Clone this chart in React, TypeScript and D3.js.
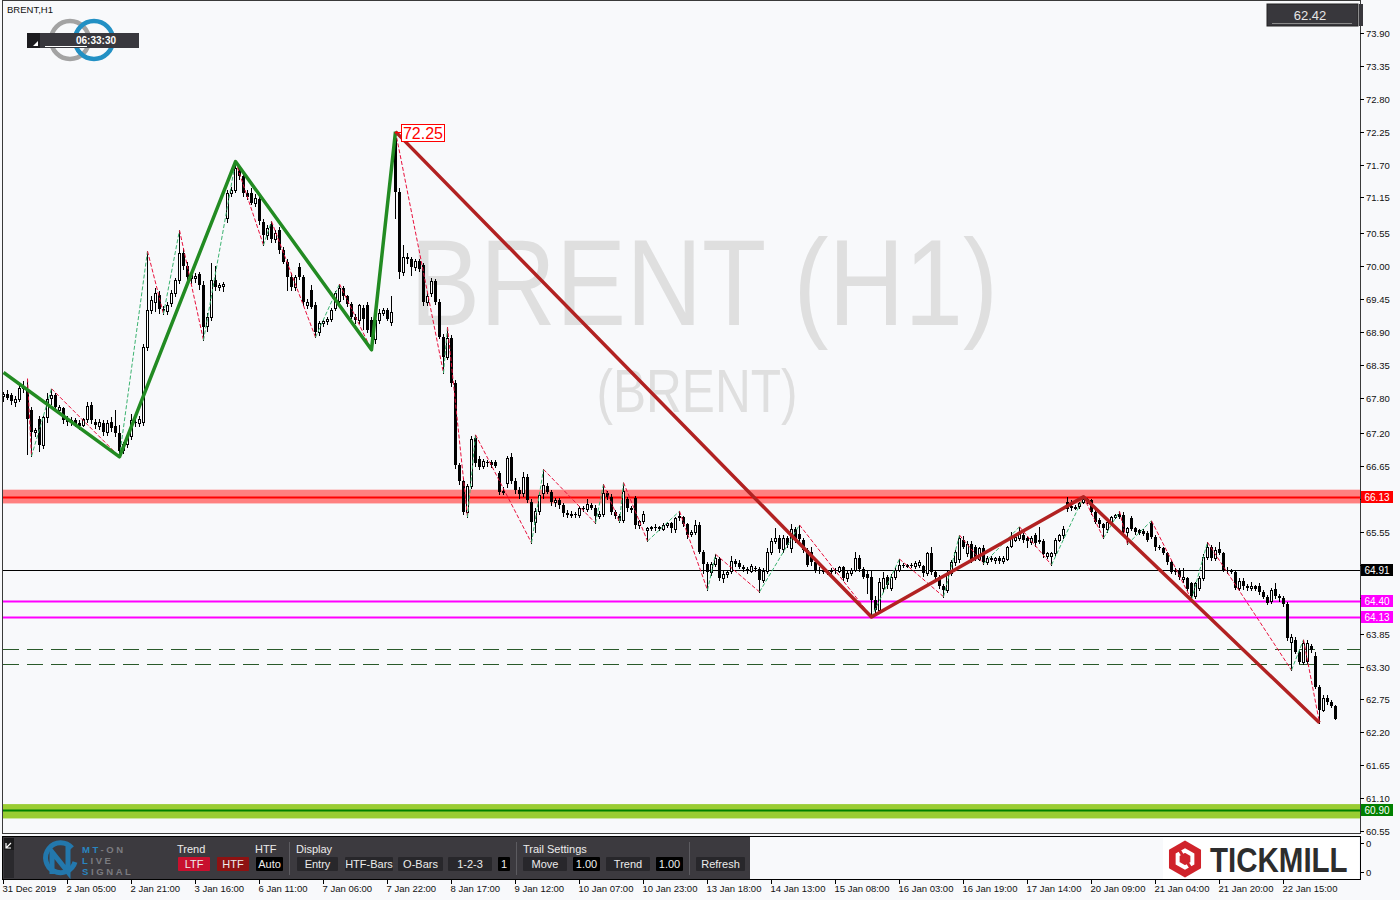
import React from 'react';
import * as d3 from 'd3';

// H1 bars, 31 Dec 2019 -> 22 Jan 2020
const opens = [
  67.82, 67.86, 67.84, 67.72, 67.78, 67.96, 67.92, 67.60, 67.22, 67.45,
  67.00, 67.47, 67.80, 67.85, 67.60, 67.62, 67.42, 67.40, 67.42, 67.38,
  67.35, 67.44, 67.68, 67.40, 67.32, 67.38, 67.22, 67.40, 67.32, 67.20,
  66.92, 67.02, 67.15, 67.40, 67.38, 67.40, 68.65, 69.27, 69.40, 69.52,
  69.28, 69.25, 69.38, 69.55, 69.77, 70.22, 70.00, 69.80, 69.80, 69.86,
  69.68, 69.00, 69.15, 69.77, 69.65, 69.66, 70.80, 71.22, 71.28, 71.64,
  71.50, 71.22, 71.22, 71.06, 71.12, 70.74, 70.52, 70.70, 70.45, 70.60,
  70.27, 70.07, 69.82, 69.65, 69.98, 69.82, 69.35, 69.60, 69.35, 68.90,
  69.05, 69.08, 69.12, 69.30, 69.42, 69.63, 69.50, 69.36, 69.15, 69.10,
  69.30, 69.35, 69.10, 68.78, 69.10, 69.22, 69.26, 69.07, 72.15, 71.24,
  69.90, 70.15, 70.12, 69.98, 70.08, 70.02, 69.40, 69.55, 69.75, 69.40,
  68.82, 68.48, 68.80, 68.05, 66.67, 66.40, 65.88, 66.32, 67.12, 66.78,
  66.65, 66.72, 66.72, 66.72, 66.54, 66.22, 66.37, 66.81, 66.40, 66.25,
  66.21, 66.47, 66.05, 65.72, 65.90, 66.21, 66.32, 66.22, 66.05, 66.08,
  66.00, 65.87, 65.84, 65.86, 65.84, 65.95, 65.93, 66.00, 65.96, 65.82,
  65.86, 66.20, 66.14, 65.88, 65.82, 65.76, 66.10, 65.96, 66.12, 65.67,
  65.74, 65.58, 65.62, 65.63, 65.62, 65.60, 65.67, 65.70, 65.60, 65.82,
  65.80, 65.68, 65.52, 65.55, 65.67, 65.22, 65.02, 64.88, 65.02, 65.10,
  64.78, 64.85, 64.90, 65.07, 65.04, 64.97, 64.94, 64.90, 64.95, 64.93,
  64.75, 64.90, 65.22, 65.40, 65.46, 65.26, 65.45, 65.28, 65.60, 65.52,
  65.42, 65.25, 65.22, 65.05, 64.92, 64.90, 64.88, 64.90, 64.92, 64.90,
  64.96, 64.78, 64.87, 64.92, 65.12, 64.93, 64.85, 64.80, 64.42, 64.25,
  64.62, 64.80, 64.62, 64.80, 64.92, 65.00, 64.98, 65.00, 64.98, 65.00,
  64.98, 64.87, 65.20, 64.88, 64.80, 64.65, 64.58, 64.87, 65.05, 65.10,
  65.42, 65.20, 65.35, 65.30, 65.10, 65.28, 65.05, 65.12, 65.08, 65.12,
  65.07, 65.10, 65.32, 65.42, 65.45, 65.50, 65.45, 65.38, 65.50, 65.42,
  65.40, 65.15, 65.15, 65.20, 65.42, 65.50, 66.05, 65.98, 65.96, 65.98,
  66.06, 66.10, 66.09, 65.89, 65.75, 65.68, 65.60, 65.72, 65.80, 65.86,
  65.84, 65.56, 65.78, 65.62, 65.58, 65.57, 65.54, 65.70, 65.47, 65.30,
  65.28, 65.20, 65.05, 64.92, 64.92, 64.76, 64.78, 64.70, 64.48, 64.62,
  64.78, 65.14, 65.30, 65.12, 65.26, 65.20, 64.92, 64.90, 64.88, 64.62,
  64.74, 64.65, 64.62, 64.65, 64.65, 64.55, 64.47, 64.40, 64.60, 64.48,
  64.44, 64.35, 63.72, 63.75, 63.55, 63.38, 63.40, 63.65, 63.48, 62.96,
  62.58, 62.78, 62.70, 62.64,
];
const highs = [
  67.90, 67.93, 67.88, 67.82, 68.00, 68.08, 68.12, 67.65, 67.30, 67.50,
  67.50, 67.88, 67.95, 67.88, 67.68, 67.65, 67.50, 67.48, 67.46, 67.42,
  67.46, 67.72, 67.72, 67.44, 67.45, 67.42, 67.42, 67.48, 67.60, 67.35,
  67.05, 67.20, 67.52, 67.45, 67.50, 68.70, 70.25, 69.50, 69.63, 69.58,
  69.33, 69.40, 69.60, 69.80, 70.60, 70.30, 70.07, 69.92, 69.88, 69.90,
  69.75, 69.22, 70.05, 70.00, 69.72, 69.74, 71.27, 71.32, 71.75, 71.70,
  71.58, 71.28, 71.30, 71.20, 71.18, 70.78, 70.68, 70.75, 70.60, 70.65,
  70.32, 70.12, 69.88, 69.85, 70.05, 69.85, 69.45, 69.68, 69.40, 69.08,
  69.12, 69.15, 69.30, 69.58, 69.70, 69.66, 69.52, 69.40, 69.20, 69.37,
  69.35, 69.40, 69.15, 69.15, 69.28, 69.30, 69.30, 69.50, 72.25, 71.30,
  70.35, 70.22, 70.15, 70.12, 70.12, 70.06, 69.55, 69.80, 69.78, 69.45,
  68.86, 68.98, 68.85, 68.10, 66.70, 66.45, 66.35, 67.15, 67.18, 66.82,
  66.78, 66.76, 66.75, 66.75, 66.58, 66.30, 66.82, 66.88, 66.45, 66.30,
  66.55, 66.52, 66.10, 65.95, 66.20, 66.60, 66.38, 66.25, 66.12, 66.12,
  66.04, 65.92, 65.90, 65.88, 65.98, 65.98, 66.10, 66.04, 66.00, 65.90,
  66.35, 66.24, 66.18, 65.92, 65.86, 66.38, 66.14, 65.98, 66.15, 65.76,
  65.90, 65.64, 65.66, 65.68, 65.66, 65.70, 65.72, 65.72, 65.80, 65.90,
  65.82, 65.70, 65.58, 65.75, 65.72, 65.25, 65.05, 65.05, 65.18, 65.14,
  64.92, 64.90, 65.15, 65.10, 65.08, 65.00, 64.97, 65.02, 64.98, 64.96,
  64.95, 65.28, 65.45, 65.62, 65.50, 65.50, 65.48, 65.68, 65.64, 65.67,
  65.46, 65.28, 65.30, 65.08, 64.96, 64.94, 64.92, 64.95, 64.95, 64.98,
  64.98, 64.90, 64.95, 65.22, 65.16, 64.96, 64.92, 64.92, 64.48, 64.78,
  64.88, 64.84, 64.85, 64.96, 65.10, 65.03, 65.02, 65.03, 65.06, 65.08,
  65.00, 65.22, 65.30, 64.92, 64.83, 64.68, 64.90, 65.08, 65.25, 65.50,
  65.48, 65.40, 65.40, 65.33, 65.30, 65.33, 65.15, 65.15, 65.14, 65.15,
  65.15, 65.32, 65.55, 65.50, 65.64, 65.54, 65.48, 65.48, 65.54, 65.64,
  65.44, 65.22, 65.22, 65.45, 65.52, 65.65, 66.14, 66.08, 66.00, 66.06,
  66.14, 66.12, 66.10, 65.92, 65.78, 65.70, 65.75, 65.82, 65.85, 65.90,
  65.88, 65.64, 65.82, 65.64, 65.60, 65.60, 65.57, 65.74, 65.50, 65.33,
  65.30, 65.22, 65.08, 64.95, 64.95, 64.95, 64.80, 64.72, 64.72, 64.82,
  65.18, 65.38, 65.33, 65.30, 65.38, 65.22, 64.96, 64.93, 64.90, 64.78,
  64.78, 64.68, 64.72, 64.67, 64.70, 64.58, 64.50, 64.62, 64.70, 64.52,
  64.48, 64.38, 63.85, 63.80, 63.58, 63.75, 63.75, 63.68, 63.55, 63.00,
  62.82, 62.82, 62.74, 62.66,
];
const lows = [
  67.74, 67.78, 67.70, 67.66, 67.74, 67.90, 66.85, 66.82, 67.15, 66.90,
  66.95, 67.40, 67.70, 67.60, 67.52, 67.38, 67.35, 67.34, 67.33, 67.28,
  67.32, 67.40, 67.38, 67.30, 67.28, 67.18, 67.18, 67.25, 67.15, 66.81,
  66.88, 66.98, 67.10, 67.33, 67.32, 67.35, 68.60, 69.22, 69.25, 69.22,
  69.20, 69.20, 69.33, 69.50, 69.72, 69.95, 69.78, 69.72, 69.74, 69.62,
  68.76, 68.92, 69.10, 69.60, 69.60, 69.58, 70.73, 71.18, 71.24, 71.46,
  71.18, 71.12, 71.04, 71.00, 70.70, 70.35, 70.45, 70.40, 70.40, 70.22,
  70.05, 69.60, 69.60, 69.60, 69.78, 69.35, 69.30, 69.30, 68.81, 68.85,
  69.00, 69.04, 69.08, 69.27, 69.38, 69.45, 69.33, 69.14, 69.05, 69.05,
  68.95, 68.90, 68.60, 68.72, 69.05, 69.18, 69.10, 69.02, 70.80, 69.80,
  69.85, 70.05, 69.85, 69.94, 69.92, 69.35, 69.35, 69.50, 69.36, 68.80,
  68.21, 68.45, 68.00, 66.62, 66.35, 65.85, 65.80, 66.28, 66.66, 66.60,
  66.62, 66.66, 66.64, 66.64, 66.18, 66.18, 66.30, 66.38, 66.20, 66.12,
  66.15, 66.05, 65.37, 65.55, 65.85, 66.12, 66.20, 66.00, 65.98, 65.96,
  65.82, 65.80, 65.80, 65.80, 65.80, 65.90, 65.90, 65.94, 65.70, 65.78,
  65.82, 66.10, 65.85, 65.78, 65.72, 65.72, 65.90, 65.88, 65.62, 65.62,
  65.70, 65.40, 65.58, 65.58, 65.58, 65.58, 65.64, 65.56, 65.56, 65.76,
  65.65, 65.45, 65.48, 65.52, 65.20, 64.87, 64.58, 64.84, 64.98, 64.75,
  64.72, 64.80, 64.86, 64.98, 64.95, 64.90, 64.86, 64.88, 64.90, 64.55,
  64.72, 64.86, 65.18, 65.36, 65.22, 65.22, 65.30, 65.22, 65.38, 65.40,
  65.22, 64.98, 65.00, 64.88, 64.86, 64.86, 64.85, 64.86, 64.86, 64.88,
  64.75, 64.74, 64.84, 64.90, 64.90, 64.78, 64.53, 64.13, 64.18, 64.20,
  64.55, 64.62, 64.58, 64.76, 64.90, 64.96, 64.96, 64.96, 64.95, 64.97,
  64.82, 64.84, 64.85, 64.78, 64.62, 64.47, 64.55, 64.84, 65.00, 65.05,
  65.28, 65.15, 65.05, 65.08, 65.08, 65.02, 65.02, 65.06, 65.04, 65.04,
  65.04, 65.08, 65.30, 65.40, 65.42, 65.38, 65.30, 65.35, 65.32, 65.36,
  65.14, 65.12, 65.00, 65.17, 65.40, 65.46, 65.90, 65.92, 65.93, 65.95,
  66.04, 66.04, 65.86, 65.70, 65.64, 65.45, 65.56, 65.70, 65.78, 65.78,
  65.54, 65.35, 65.58, 65.52, 65.52, 65.50, 65.40, 65.45, 65.25, 65.26,
  65.18, 65.02, 64.86, 64.85, 64.76, 64.72, 64.58, 64.42, 64.45, 64.58,
  64.75, 65.10, 65.08, 65.08, 65.18, 64.90, 64.86, 64.86, 64.60, 64.58,
  64.60, 64.58, 64.58, 64.58, 64.52, 64.44, 64.34, 64.36, 64.45, 64.40,
  64.32, 63.75, 63.24, 63.52, 63.36, 63.34, 63.36, 63.55, 62.94, 62.36,
  62.55, 62.67, 62.62, 62.42,
];
const closes = [
  67.86, 67.80, 67.74, 67.78, 67.96, 67.98, 67.45, 67.22, 67.26, 67.00,
  67.47, 67.78, 67.85, 67.65, 67.64, 67.42, 67.40, 67.42, 67.36, 67.33,
  67.44, 67.66, 67.42, 67.34, 67.40, 67.22, 67.38, 67.30, 67.20, 66.90,
  67.02, 67.15, 67.42, 67.38, 67.45, 68.65, 69.27, 69.43, 69.55, 69.28,
  69.25, 69.35, 69.55, 69.77, 70.22, 70.00, 69.82, 69.85, 69.84, 69.68,
  68.98, 69.15, 69.77, 69.65, 69.68, 69.70, 71.22, 71.28, 71.64, 71.50,
  71.22, 71.16, 71.06, 71.14, 70.75, 70.52, 70.64, 70.45, 70.56, 70.27,
  70.07, 69.82, 69.65, 69.82, 69.82, 69.40, 69.40, 69.32, 68.90, 69.05,
  69.08, 69.12, 69.27, 69.55, 69.63, 69.50, 69.36, 69.15, 69.10, 69.35,
  69.12, 68.93, 68.82, 69.10, 69.22, 69.26, 69.12, 69.23, 71.24, 69.90,
  70.15, 70.12, 69.98, 70.08, 69.95, 69.40, 69.50, 69.75, 69.40, 68.82,
  68.48, 68.80, 68.05, 66.67, 66.40, 65.88, 66.32, 67.10, 66.70, 66.64,
  66.74, 66.70, 66.67, 66.66, 66.22, 66.24, 66.79, 66.40, 66.25, 66.18,
  66.47, 66.09, 65.72, 65.90, 66.17, 66.34, 66.22, 66.05, 66.08, 66.00,
  65.87, 65.84, 65.86, 65.84, 65.95, 65.93, 66.02, 65.96, 65.82, 65.86,
  66.20, 66.14, 65.88, 65.82, 65.74, 66.24, 65.96, 65.92, 65.67, 65.74,
  65.85, 65.62, 65.63, 65.62, 65.63, 65.67, 65.70, 65.62, 65.78, 65.79,
  65.68, 65.50, 65.55, 65.67, 65.22, 65.02, 64.88, 65.02, 65.12, 64.78,
  64.85, 64.88, 65.07, 65.02, 64.97, 64.94, 64.90, 64.98, 64.93, 64.75,
  64.90, 65.22, 65.40, 65.46, 65.26, 65.45, 65.34, 65.60, 65.42, 65.44,
  65.25, 65.00, 65.05, 64.92, 64.90, 64.88, 64.90, 64.92, 64.90, 64.96,
  64.78, 64.87, 64.92, 65.12, 64.93, 64.80, 64.78, 64.42, 64.25, 64.72,
  64.78, 64.66, 64.80, 64.92, 65.00, 64.98, 65.00, 64.98, 65.03, 65.05,
  64.87, 65.20, 64.88, 64.80, 64.65, 64.58, 64.87, 65.05, 65.22, 65.45,
  65.30, 65.35, 65.08, 65.12, 65.28, 65.05, 65.12, 65.08, 65.12, 65.07,
  65.12, 65.30, 65.47, 65.47, 65.52, 65.42, 65.40, 65.45, 65.36, 65.38,
  65.18, 65.20, 65.20, 65.42, 65.50, 65.60, 65.93, 65.95, 65.97, 66.04,
  66.11, 66.07, 65.89, 65.72, 65.68, 65.62, 65.72, 65.80, 65.83, 65.80,
  65.56, 65.62, 65.60, 65.55, 65.54, 65.52, 65.42, 65.47, 65.30, 65.28,
  65.20, 65.05, 64.88, 64.88, 64.80, 64.80, 64.60, 64.48, 64.70, 64.78,
  65.14, 65.30, 65.12, 65.25, 65.20, 64.92, 64.90, 64.88, 64.62, 64.74,
  64.65, 64.62, 64.65, 64.60, 64.55, 64.47, 64.37, 64.58, 64.48, 64.44,
  64.35, 63.78, 63.80, 63.55, 63.38, 63.70, 63.70, 63.58, 62.96, 62.57,
  62.78, 62.70, 62.64, 62.42,
];

const timeLabels = [
  '31 Dec 2019', '2 Jan 05:00', '2 Jan 21:00', '3 Jan 16:00', '6 Jan 11:00', '7 Jan 06:00',
  '7 Jan 22:00', '8 Jan 17:00', '9 Jan 12:00', '10 Jan 07:00', '10 Jan 23:00', '13 Jan 18:00',
  '14 Jan 13:00', '15 Jan 08:00', '16 Jan 03:00', '16 Jan 19:00', '17 Jan 14:00', '20 Jan 09:00',
  '21 Jan 04:00', '21 Jan 20:00', '22 Jan 15:00',
];
const labelStep = 16; // bars between time labels

const priceTicks = [
  73.90, 73.35, 72.80, 72.25, 71.70, 71.15, 70.55, 70.00, 69.45, 68.90, 68.35, 67.80, 67.20,
  66.65, 66.10, 65.55, 65.00, 64.45, 63.85, 63.30, 62.75, 62.20, 61.65, 61.10, 60.55,
];

// major zigzag (HTF)
const upZigIdx = [0, 29, 58, 92, 98];
const upZigPrice = [68.22, 66.81, 71.75, 68.60, 72.25];
const downZigIdx = [98, 217, 270, 329];
const downZigPrice = [72.25, 64.13, 66.14, 62.36];

// minor zigzag (LTF)
const minorIdx = [6, 7, 12, 29, 36, 40, 44, 50, 58, 65, 67, 78, 84, 92, 98, 110, 111, 116, 118, 132,
  135, 148, 150, 154, 155, 161, 169, 176, 178, 189, 199, 217, 224, 235, 239, 245, 254, 262, 270, 275,
  279, 281, 287, 297, 301, 322, 325, 329];
const minorPrice = [68.12, 66.82, 67.95, 66.81, 70.25, 69.20, 70.60, 68.76, 71.75, 70.35, 70.75, 68.81,
  69.70, 68.60, 72.25, 68.21, 68.98, 65.80, 67.18, 65.37, 66.60, 65.70, 66.35, 65.72, 66.38, 65.40,
  65.90, 64.58, 65.18, 64.55, 65.67, 64.13, 65.10, 64.47, 65.50, 65.02, 65.64, 65.00, 66.14, 65.45,
  65.90, 65.35, 65.74, 64.42, 65.38, 63.24, 63.75, 62.36];

const resistance = 66.13;
const resistanceZone = [66.26, 66.03];
const pivotLevel = 64.91;
const magentaLevels = [64.40, 64.13];
const dashedLevels = [63.60, 63.35];
const support = 60.90;
const supportZone = [61.00, 60.76];
const lastPrice = 62.42;
const peakPrice = 72.25;

const FONT = "'Liberation Sans', Arial, sans-serif";

const Btn = ({ x, w, label, fill }: { x: number; w: number; label: string; fill: string }) => (
  <g>
    <rect x={x} y={857} width={w} height={14} fill={fill} rx={1} />
    <text x={x + w / 2} y={868} textAnchor="middle" fontSize={11} fill="#ececec" fontFamily={FONT}>{label}</text>
  </g>
);

const App: React.FC = () => {
  const n = Math.min(opens.length, highs.length, lows.length, closes.length);
  const x = d3.scaleLinear().domain([0, 333]).range([3, 1335]);
  const y = d3.scaleLinear().domain([60.55, 73.9]).range([831, 33]);
  const line = d3.line<number>();
  const zigPath = (idx: number[], pr: number[]) =>
    d3.line<number>().x(i => x(idx[i]) + 0.5).y(i => y(pr[i]))(d3.range(idx.length)) || '';

  const tagLevels = [resistance, pivotLevel, ...magentaLevels, support];
  // tick labels hidden behind a level tag are left out
  const visibleTick = (t: number) => tagLevels.every(p => Math.abs(y(p) - y(t)) > 10);

  const levelTag = (p: number, fill: string) => {
    const yy = Math.round(y(p));
    return (
      <g key={'tag' + p}>
        <rect x={1361} y={yy - 6} width={32} height={12} fill={fill} />
        <text x={1377} y={yy + 4} textAnchor="middle" fontSize={10} fill="#fff" fontFamily={FONT}>{p.toFixed(2)}</text>
      </g>
    );
  };

  const hex = (cx: number, cy: number, r: number) =>
    d3.range(6).map(k => {
      const a = (Math.PI / 3) * k - Math.PI / 2;
      return [cx + r * Math.cos(a), cy + r * Math.sin(a)] as [number, number];
    });

  return (
    <div>
      <style>{'body{margin:0}'}</style>
      <svg width={1400} height={900} style={{ display: 'block' }}>
        <rect width={1400} height={900} fill="#f8f9fb" />
        <defs>
          <clipPath id="plot"><rect x={3} y={2} width={1357} height={831} /></clipPath>
        </defs>

        {/* watermark */}
        <text x={704} y={325} textAnchor="middle" fontSize={122} fontFamily={FONT}
          fill="#dfdfdf" textLength={588} lengthAdjust="spacingAndGlyphs">BRENT (H1)</text>
        <text x={697} y={412} textAnchor="middle" fontSize={62} fontFamily={FONT}
          fill="#dfdfdf" textLength={201} lengthAdjust="spacingAndGlyphs">(BRENT)</text>

        <g clipPath="url(#plot)">
          {/* zones and levels */}
          <rect x={3} y={y(resistanceZone[0])} width={1357} height={y(resistanceZone[1]) - y(resistanceZone[0])} fill="#ff8080" />
          <rect x={3} y={y(supportZone[0])} width={1357} height={y(supportZone[1]) - y(supportZone[0])} fill="#9acd32" />
          <line x1={3} x2={1360} y1={Math.round(y(resistance)) + 0.5} y2={Math.round(y(resistance)) + 0.5} stroke="#ff0000" strokeWidth={2} />
          <line x1={3} x2={1360} y1={Math.round(y(support)) + 0.5} y2={Math.round(y(support)) + 0.5} stroke="#008000" strokeWidth={2} />
          <line x1={3} x2={1360} y1={Math.round(y(pivotLevel)) + 0.5} y2={Math.round(y(pivotLevel)) + 0.5} stroke="#000" strokeWidth={1} />
          {magentaLevels.map(p => (
            <line key={p} x1={3} x2={1360} y1={Math.round(y(p)) + 0.5} y2={Math.round(y(p)) + 0.5} stroke="#ff00ff" strokeWidth={2} />
          ))}
          {dashedLevels.map(p => (
            <line key={p} x1={3} x2={1360} y1={Math.round(y(p)) + 0.5} y2={Math.round(y(p)) + 0.5} stroke="#2a5a2a" strokeWidth={1} strokeDasharray="16,8" />
          ))}

          {/* candles */}
          <g shapeRendering="crispEdges">
            {d3.range(n).map(i => {
              const c = Math.round(x(i));
              const o = opens[i], cl = closes[i];
              const top = Math.round(y(Math.max(o, cl)));
              const bot = Math.round(y(Math.min(o, cl)));
              const up = cl > o;
              return (
                <g key={i}>
                  <line x1={c + 0.5} x2={c + 0.5} y1={Math.round(y(highs[i]))} y2={Math.round(y(lows[i])) + 1} stroke="#000" />
                  {up ? (
                    <rect x={c - 0.5} y={top + 0.5} width={2} height={Math.max(bot - top, 1)} fill="#fff" stroke="#000" />
                  ) : (
                    <rect x={c - 1} y={top} width={3} height={Math.max(bot - top, 1)} fill="#000" />
                  )}
                </g>
              );
            })}
          </g>

          {/* minor zigzag */}
          {d3.range(minorIdx.length - 1).map(k => {
            const upLeg = minorPrice[k + 1] > minorPrice[k];
            const d = line([
              [x(minorIdx[k]) + 0.5, y(minorPrice[k])],
              [x(minorIdx[k + 1]) + 0.5, y(minorPrice[k + 1])],
            ] as any) || '';
            return <path key={k} d={d} fill="none" stroke={upLeg ? '#3cb371' : '#e8103c'} strokeWidth={1} strokeDasharray="4,2" />;
          })}

          {/* major zigzag */}
          <path d={zigPath(upZigIdx, upZigPrice)} fill="none" stroke="#228b22" strokeWidth={3.5} strokeLinejoin="round" />
          <path d={zigPath(downZigIdx, downZigPrice)} fill="none" stroke="#b22222" strokeWidth={3.5} strokeLinejoin="round" />
        </g>

        {/* peak label */}
        <line x1={395} x2={402} y1={Math.round(y(peakPrice)) + 0.5} y2={Math.round(y(peakPrice)) + 0.5} stroke="#ff0000" />
        <rect x={401.5} y={124.5} width={43} height={17} fill="#fff" stroke="#ff0000" />
        <text x={423} y={139} textAnchor="middle" fontSize={16} fill="#ff0000" fontFamily={FONT}>{peakPrice.toFixed(2)}</text>

        {/* frames */}
        <rect x={2.5} y={0.5} width={1358} height={833} fill="none" stroke="#3a3a3a" />
        <rect x={2.5} y={836.5} width={1358} height={43} fill="#f8f9fb" stroke="#000" />

        {/* price axis */}
        {priceTicks.map(t => {
          const yy = Math.round(y(t)) + 0.5;
          return (
            <g key={t}>
              <line x1={1360} x2={1364} y1={yy} y2={yy} stroke="#000" />
              {visibleTick(t) && (
                <text x={1366} y={yy + 3.5} fontSize={9.5} fill="#111" fontFamily={FONT}>{t.toFixed(2)}</text>
              )}
            </g>
          );
        })}
        {levelTag(resistance, '#ff0000')}
        {levelTag(pivotLevel, '#000000')}
        {magentaLevels.map(p => levelTag(p, '#ff00ff'))}
        {levelTag(support, '#008000')}
        <line x1={1360} x2={1364} y1={843.5} y2={843.5} stroke="#000" />
        <text x={1366} y={847} fontSize={9.5} fill="#111" fontFamily={FONT}>0</text>
        <line x1={1360} x2={1364} y1={872.5} y2={872.5} stroke="#000" />
        <text x={1366} y={876} fontSize={9.5} fill="#111" fontFamily={FONT}>0</text>

        {/* time axis */}
        {timeLabels.map((lab, k) => {
          const xx = Math.round(x(k * labelStep)) + 0.5;
          return (
            <g key={lab}>
              <line x1={xx} x2={xx} y1={880} y2={884} stroke="#000" />
              <text x={xx - 1} y={892} fontSize={9.5} fill="#111" fontFamily={FONT}>{lab}</text>
            </g>
          );
        })}

        {/* top-left title and timer */}
        <text x={7} y={13} fontSize={9.5} fill="#111" fontFamily={FONT}>BRENT,H1</text>
        <circle cx={70} cy={40} r={19} fill="none" stroke="#a3a3a3" strokeWidth={4.5} />
        <circle cx={94} cy={40} r={19} fill="none" stroke="#2290c4" strokeWidth={4.5} />
        <rect x={27} y={33} width={112} height={15} fill="#39383e" />
        <rect x={27} y={33} width={13} height={15} fill="#1c1c1f" />
        <polygon points="33,46 38,41 38,46" fill="#fff" />
        <text x={96} y={44} textAnchor="middle" fontSize={10} fontWeight="bold" fill="#fff" fontFamily={FONT}>06:33:30</text>
        <line x1={45} x2={87} y1={46.5} y2={46.5} stroke="#fff" />

        {/* last price box */}
        <rect x={1267} y={4} width={91} height={22} fill="#38373c" stroke="#222" />
        <text x={1310} y={20} textAnchor="middle" fontSize={13} fill="#e6e6e6" fontFamily={FONT}>{lastPrice.toFixed(2)}</text>
        <line x1={1272} x2={1352} y1={23.5} y2={23.5} stroke="#8a8a8a" />
        <rect x={1359} y={4} width={4} height={22} fill="#38373c" />

        {/* bottom toolbar */}
        <rect x={3} y={837} width={747} height={42} fill="#3c3a3f" />
        <rect x={4} y={838} width={10} height={40} fill="#2a292d" />
        <rect x={4} y={838} width={10} height={12} fill="#1a1a1c" />
        <path d="M6,848 L11,843 M6,843 L6,848 L11,848" fill="none" stroke="#fff" strokeWidth={1.2} />
        <path d="M72,848 A15,15 0 1,0 75,862" fill="none" stroke="#2378ad" strokeWidth={5} />
        <path d="M52,874 L52,852 L68,872 L68,846" fill="none" stroke="#2378ad" strokeWidth={5} />
        {[['MT', '-ON', 853], ['L', 'IVE', 864], ['S', 'IGNAL', 875]].map(([a, b, yy]) => (
          <text key={a as string} x={82} y={yy as number} fontSize={9.5} fontWeight="bold" letterSpacing={2.6} fontFamily={FONT}>
            <tspan fill="#2a86c0">{a}</tspan><tspan fill="#7b7b7f">{b}</tspan>
          </text>
        ))}
        <text x={177} y={853} fontSize={11} fill="#ececec" fontFamily={FONT}>Trend</text>
        <text x={255} y={853} fontSize={11} fill="#ececec" fontFamily={FONT}>HTF</text>
        <text x={296} y={853} fontSize={11} fill="#ececec" fontFamily={FONT}>Display</text>
        <text x={523} y={853} fontSize={11} fill="#ececec" fontFamily={FONT}>Trail Settings</text>
        {[289.5, 516.5, 689.5].map(sx => (
          <line key={sx} x1={sx} x2={sx} y1={842} y2={875} stroke="#5c5b60" />
        ))}
        <Btn x={178} w={32} label="LTF" fill="#c8102e" />
        <Btn x={217} w={32} label="HTF" fill="#8e1212" />
        <Btn x={256} w={27} label="Auto" fill="#000" />
        <Btn x={297} w={41} label="Entry" fill="#28272b" />
        <Btn x={345} w={48} label="HTF-Bars" fill="#28272b" />
        <Btn x={398} w={45} label="O-Bars" fill="#28272b" />
        <Btn x={448} w={44} label="1-2-3" fill="#28272b" />
        <Btn x={498} w={12} label="1" fill="#000" />
        <Btn x={523} w={44} label="Move" fill="#28272b" />
        <Btn x={573} w={27} label="1.00" fill="#000" />
        <Btn x={606} w={44} label="Trend" fill="#28272b" />
        <Btn x={656} w={27} label="1.00" fill="#000" />
        <Btn x={696} w={49} label="Refresh" fill="#28272b" />

        {/* Tickmill logo */}
        <rect x={1163} y={838} width={196} height={41} fill="#fff" />
        <polygon points={hex(1185, 859, 18.5).map(p => p.join(',')).join(' ')} fill="#d0232b" />
        <polygon points={hex(1185, 859, 8.5).map(p => p.join(',')).join(' ')} fill="none" stroke="#fff" strokeWidth={4} />
        <path d="M1178,848 L1183,856 M1192,870 L1187,862" stroke="#d0232b" strokeWidth={3} />
        <text transform="translate(1210,872) scale(1,1.2)" fontSize={29.5} fontWeight="bold" fill="#2d2d2d" fontFamily={FONT}>TICKMILL</text>
      </svg>
    </div>
  );
};

export default App;
